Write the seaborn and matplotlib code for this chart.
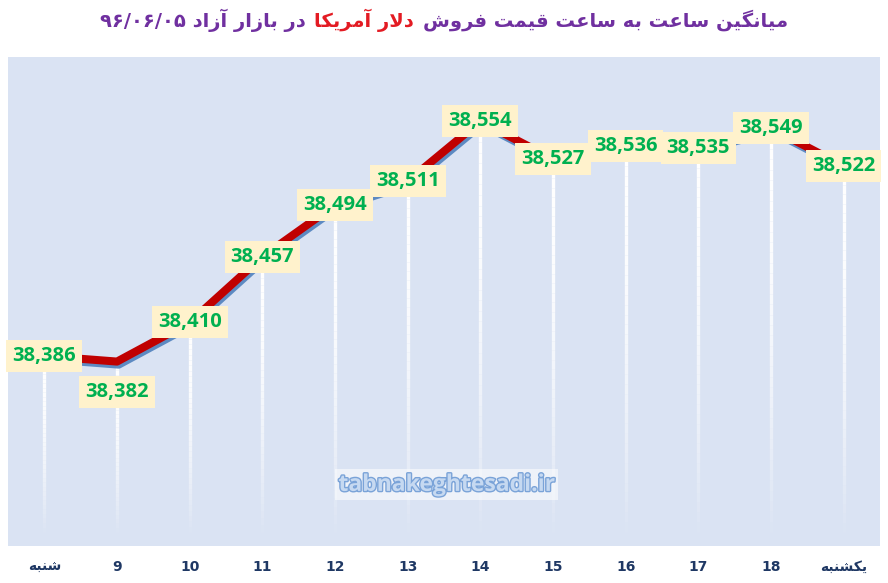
import re
import numpy as np
import pandas as pd
import seaborn as sns
import matplotlib.pyplot as plt
from matplotlib import patheffects as pe
from matplotlib.collections import LineCollection
from matplotlib.offsetbox import TextArea, HPacker, AnchoredOffsetbox

# data
hours = ['شنبه', '9', '10', '11', '12', '13', '14', '15', '16', '17', '18', 'یکشنبه']
prices = [38386, 38382, 38410, 38457, 38494, 38511, 38554, 38527, 38536, 38535, 38549, 38522]
title_parts = ['میانگین ساعت به ساعت قیمت فروش', 'دلار آمریکا', 'در بازار آزاد ۹۶/۰۶/۰۵']

# --- tiny persian shaper (matplotlib has no arabic shaping / rtl) ---
FORMS = {
    'ا': ('\uFE8D', '\uFE8E'), 'آ': ('\uFE81', '\uFE82'),
    'د': ('\uFEA9', '\uFEAA'), 'ر': ('\uFEAD', '\uFEAE'),
    'ز': ('\uFEAF', '\uFEB0'), 'و': ('\uFEED', '\uFEEE'),
    'ب': ('\uFE8F', '\uFE90', '\uFE91', '\uFE92'),
    'ت': ('\uFE95', '\uFE96', '\uFE97', '\uFE98'),
    'ع': ('\uFEC9', '\uFECA', '\uFECB', '\uFECC'),
    'س': ('\uFEB1', '\uFEB2', '\uFEB3', '\uFEB4'),
    'ش': ('\uFEB5', '\uFEB6', '\uFEB7', '\uFEB8'),
    'ق': ('\uFED5', '\uFED6', '\uFED7', '\uFED8'),
    'ف': ('\uFED1', '\uFED2', '\uFED3', '\uFED4'),
    'م': ('\uFEE1', '\uFEE2', '\uFEE3', '\uFEE4'),
    'ن': ('\uFEE5', '\uFEE6', '\uFEE7', '\uFEE8'),
    'ه': ('\uFEE9', '\uFEEA', '\uFEEB', '\uFEEC'),
    'ل': ('\uFEDD', '\uFEDE', '\uFEDF', '\uFEE0'),
    'ی': ('\uFBFC', '\uFBFD', '\uFBFE', '\uFBFF'),
    'ک': ('\uFB8E', '\uFB8F', '\uFB90', '\uFB91'),
    'گ': ('\uFB92', '\uFB93', '\uFB94', '\uFB95'),
}
LAM_ALEF = {'ا': ('\uFEFB', '\uFEFC'), 'آ': ('\uFEF5', '\uFEF6')}


def fa(text):
    chars = list(text)
    out = []
    i = 0
    while i < len(chars):
        c = chars[i]
        prev = chars[i - 1] if i > 0 else ''
        joins_prev = prev in FORMS and len(FORMS[prev]) == 4
        if c == 'ل' and i + 1 < len(chars) and chars[i + 1] in LAM_ALEF:
            out.append(LAM_ALEF[chars[i + 1]][1 if joins_prev else 0])
            i += 2
            continue
        if c in FORMS:
            f = FORMS[c]
            nxt = chars[i + 1] if i + 1 < len(chars) else ''
            joins_next = len(f) == 4 and nxt in FORMS
            if joins_prev and joins_next:
                out.append(f[3])
            elif joins_prev:
                out.append(f[1])
            elif joins_next:
                out.append(f[2])
            else:
                out.append(f[0])
        else:
            out.append(c)
        i += 1
    tokens = re.findall(r'[0-9\u06F0-\u06F9/]+|.', ''.join(out))
    return ''.join(tokens[::-1])


sns.set_theme(style='white')
plt.rcParams['font.family'] = ['DejaVu Sans']

fig = plt.figure(figsize=(8.88, 5.83), dpi=100)
ax = fig.add_axes([8 / 888, 1 - 546 / 583, 872 / 888, 489 / 583])
ax.set_facecolor('#dae3f3')
for s in ax.spines.values():
    s.set_visible(False)

xs = np.arange(len(prices))
ymin, ymax = 38250, 38600

# fading white drop lines
for x, v in zip(xs, prices):
    ys = np.linspace(v, 38260, 40)
    segs = [[(x, ys[k]), (x, ys[k + 1])] for k in range(len(ys) - 1)]
    t = np.linspace(0, 1, len(segs))
    alphas = 1 - 0.95 * t ** 1.8
    cols = [(1, 1, 1, a) for a in alphas]
    ax.add_collection(LineCollection(segs, colors=cols, linewidths=2.4, zorder=1))

df = pd.DataFrame({'x': xs, 'price': prices})
sns.lineplot(data=df, x='x', y='price', color='#c00000', lw=5.8, ax=ax, zorder=3,
             path_effects=[pe.SimpleLineShadow(offset=(1.2, -2.2), shadow_color='#4f81bd', alpha=0.9),
                           pe.Normal()])

for x, v in zip(xs, prices):
    dy = -30 if v == 38382 else 0
    ax.annotate(f'{v:,}', (x, v), xytext=(0, dy), textcoords='offset pixels',
                ha='center', va='center', fontsize=14.5, fontweight='bold',
                color='#00b050', family='Open Sans', zorder=5,
                bbox=dict(boxstyle='square,pad=0.3', fc='#fff2cc', ec='none'))

ax.text(0.503, 0.125, 'tabnakeghtesadi.ir', transform=ax.transAxes, ha='center', va='center',
        fontsize=16.5, fontweight='bold', family='Open Sans', color='#c6d9f1', zorder=2,
        path_effects=[pe.withStroke(linewidth=2, foreground='#7aa3d8')],
        bbox=dict(boxstyle='square,pad=0.15', fc='white', ec='none', alpha=0.55))

ax.set_xlim(-0.5, 11.5)
ax.set_ylim(ymin, ymax)
ax.set_yticks([])
ax.set_xticks(xs)
ax.set_xticklabels([fa(h) for h in hours], fontsize=10, fontweight='bold', color='#1f3864')
ax.tick_params(axis='x', length=0, pad=10)
ax.set_xlabel('')
ax.set_ylabel('')

# two-colour rtl title: visual order left -> right
tp = dict(fontsize=14, fontweight='bold', family='DejaVu Sans')
parts = [TextArea(fa(title_parts[2]), textprops=dict(color='#7030a0', **tp)),
         TextArea(fa(title_parts[1]), textprops=dict(color='#e31b23', **tp)),
         TextArea(fa(title_parts[0]), textprops=dict(color='#7030a0', **tp))]
box = HPacker(children=parts, align='center', pad=0, sep=6)
anch = AnchoredOffsetbox(loc='center', child=box, bbox_to_anchor=(0.5, 1 - 20 / 583),
                         bbox_transform=fig.transFigure, frameon=False, pad=0, borderpad=0)
fig.add_artist(anch)

fig.savefig('out.png', dpi=100, facecolor='white')
